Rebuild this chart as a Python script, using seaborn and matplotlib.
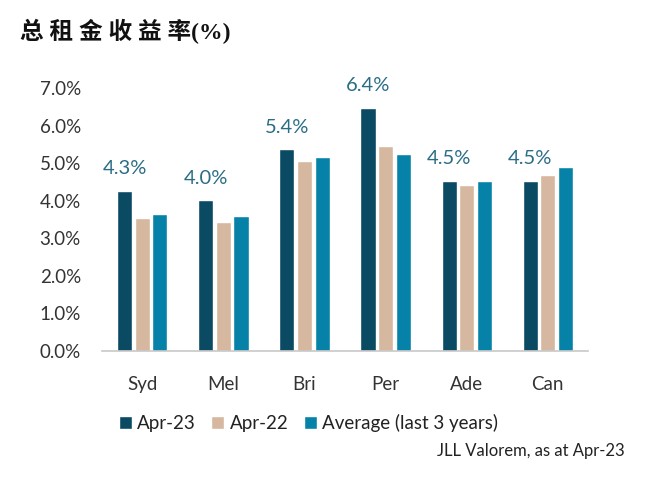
import pandas as pd
import matplotlib.pyplot as plt
import seaborn as sns

# values (%)
cities = ["Syd", "Mel", "Bri", "Per", "Ade", "Can"]
apr23 = [4.27, 4.01, 5.37, 6.48, 4.53, 4.53]
apr22 = [3.54, 3.43, 5.07, 5.47, 4.43, 4.68]
avg3y = [3.65, 3.59, 5.16, 5.26, 4.53, 4.90]
top_labels = ["4.3%", "4.0%", "5.4%", "6.4%", "4.5%", "4.5%"]
series = ["Apr-23", "Apr-22", "Average (last 3 years)"]
colors = ["#0b4a63", "#d6b8a0", "#0682a8"]

df = pd.DataFrame({"city": cities * 3,
                   "series": [s for s in series for _ in cities],
                   "value": apr23 + apr22 + avg3y})

sns.set_style("white")
plt.rcParams['font.family'] = ['Lato', 'DejaVu Sans']

fig = plt.figure(figsize=(6.61, 4.82), dpi=100)
ax = fig.add_axes([0.154, 0.272, 0.736, 0.545])

sns.barplot(data=df, x="city", y="value", hue="series", palette=colors,
            saturation=1, width=0.65, gap=0.14, ax=ax, legend=True)

ax.set_ylim(0, 7.0)
ax.set_xlim(-0.5, 5.5)
ax.set_yticks([i for i in range(8)])
ax.set_yticklabels([f"{i}.0%" for i in range(8)], fontsize=13.5, color="#333333")
ax.tick_params(axis="x", labelsize=13.5, colors="#333333", pad=18, length=0)
ax.tick_params(axis="y", length=0, pad=15)
ax.set_xlabel("")
ax.set_ylabel("")
sns.despine(ax=ax, left=True)
ax.spines["bottom"].set_color("#c8c8c8")
ax.spines["bottom"].set_linewidth(1.2)

# labels over the Apr-23 bars
for bar, lab in zip(ax.containers[0], top_labels):
    ax.annotate(lab, (bar.get_x() + bar.get_width() / 2, bar.get_height()),
                xytext=(0, 16), textcoords="offset points",
                ha="center", va="center", fontsize=14.5, color="#2a6d85")

handles, labels = ax.get_legend_handles_labels()
ax.legend(handles, labels, ncol=3, frameon=False, fontsize=13.5,
          loc="upper left", bbox_to_anchor=(0.0, -0.175),
          handlelength=0.7, handleheight=0.7, handletextpad=0.3,
          columnspacing=0.8, labelcolor="#222222")

fig.text(0.945, 0.065, "JLL Valorem, as at Apr-23", ha="right", va="center",
         fontsize=12, color="#222222")

fig.text(0.03, 0.935, "总 租 金 收 益 率(%)", ha="left", va="center",
         fontsize=17, fontweight="bold", color="#111111",
         family=['Liberation Serif', 'Noto Sans CJK SC'])

fig.savefig("out.png", dpi=100)
